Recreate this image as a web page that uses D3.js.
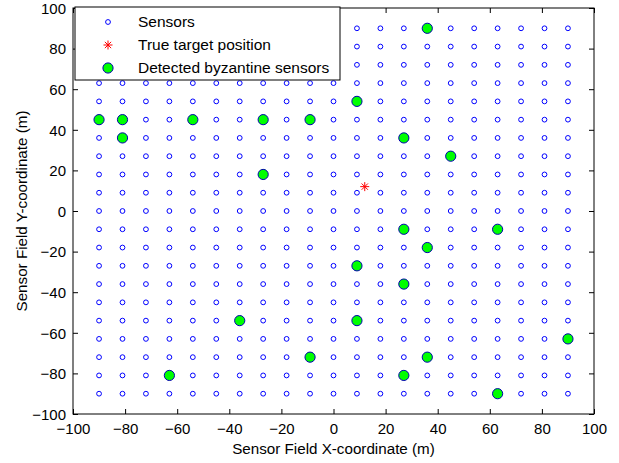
<!DOCTYPE html>
<html>
<head>
<meta charset="utf-8">
<script src="https://cdn.jsdelivr.net/npm/d3@7"></script>
<style>
  body { margin: 0; background: #fff; }
  svg { display: block; font-family: "Liberation Sans", Arial, sans-serif; }
</style>
</head>
<body>
<div id="chart"></div>
<script>
// sensor grid coordinates (same for x and y)
const gridCoords = [-90, -81, -72, -63, -54, -45, -36, -27, -18, -9, 0, 9, 18, 27, 36, 45, 54, 63, 72, 81, 90];

// true target position
const targetPos = [12, 12];

// detected byzantine sensors
const byzX = [36, 9, -90, -81, -54, -27, -9, -81, 27, 45, -27, 27, 63, 36, 9, 27, -36, 9, 90, -9, 36, -63, 27, 63];
const byzY = [90, 54, 45, 45, 45, 45, 45, 36, 36, 27, 18, -9, -9, -18, -27, -36, -54, -54, -63, -72, -72, -81, -81, -90];

const xTicks = [-100, -80, -60, -40, -20, 0, 20, 40, 60, 80, 100];
const yTicks = [-100, -80, -60, -40, -20, 0, 20, 40, 60, 80, 100];

const legendLabels = ['Sensors', 'True target position', 'Detected byzantine sensors'];

const W = 619, H = 463;
const m = { left: 73, top: 8, right: 25, bottom: 49 };
const iw = W - m.left - m.right, ih = H - m.top - m.bottom;

const svg = d3.select('#chart').append('svg').attr('width', W).attr('height', H);
const g = svg.append('g').attr('transform', `translate(${m.left},${m.top})`);

const x = d3.scaleLinear().domain([-100, 100]).range([0, iw]);
const y = d3.scaleLinear().domain([-100, 100]).range([ih, 0]);

// sensors
const sensors = [];
gridCoords.forEach(sy => gridCoords.forEach(sx => sensors.push([sx, sy])));

g.append('g').selectAll('circle').data(sensors).join('circle')
  .attr('cx', d => x(d[0])).attr('cy', d => y(d[1]))
  .attr('r', 2.4)
  .attr('fill', 'none').attr('stroke', '#0000ff').attr('stroke-width', 1);

// star marker path
function starPath(cx, cy, s) {
  const d = s * 0.7;
  return `M${cx - s},${cy}L${cx + s},${cy}M${cx},${cy - s}L${cx},${cy + s}` +
    `M${cx - d},${cy - d}L${cx + d},${cy + d}M${cx - d},${cy + d}L${cx + d},${cy - d}`;
}

g.append('path')
  .attr('d', starPath(x(targetPos[0]), y(targetPos[1]), 4.5))
  .attr('stroke', '#ff0000').attr('stroke-width', 1).attr('fill', 'none');

// byzantine sensors
g.append('g').selectAll('circle').data(byzX.map((v, i) => [v, byzY[i]])).join('circle')
  .attr('cx', d => x(d[0])).attr('cy', d => y(d[1]))
  .attr('r', 5.1)
  .attr('fill', '#00ff00').attr('stroke', '#0000b0').attr('stroke-width', 1);

// axes (ticks inside, box all around)
const fmt = d3.format('d');
const ax = g.append('g').attr('transform', `translate(0,${ih})`)
  .call(d3.axisBottom(x).tickValues(xTicks).tickFormat(fmt).tickSizeInner(-5).tickSizeOuter(0).tickPadding(9));
const ay = g.append('g')
  .call(d3.axisLeft(y).tickValues(yTicks).tickFormat(fmt).tickSizeInner(-5).tickSizeOuter(0).tickPadding(7));
const axT = g.append('g')
  .call(d3.axisTop(x).tickValues(xTicks).tickFormat('').tickSizeInner(-5).tickSizeOuter(0));
const ayR = g.append('g').attr('transform', `translate(${iw},0)`)
  .call(d3.axisRight(y).tickValues(yTicks).tickFormat('').tickSizeInner(-5).tickSizeOuter(0));

[ax, ay, axT, ayR].forEach(a => {
  a.select('.domain').remove();
  a.selectAll('text').attr('font-size', 15).attr('fill', '#000')
    .style('font-family', '"Liberation Sans", Arial, sans-serif');
  a.selectAll('line').attr('stroke', '#000');
});
ax.selectAll('text').attr('dy', '0.71em');
ay.selectAll('text').attr('dy', '0.35em');

g.append('rect').attr('width', iw).attr('height', ih)
  .attr('fill', 'none').attr('stroke', '#000').attr('stroke-width', 1);

// axis labels
svg.append('text')
  .attr('x', m.left + iw / 2).attr('y', 454)
  .attr('text-anchor', 'middle').attr('font-size', 15.2)
  .text('Sensor Field X-coordinate (m)');
svg.append('text')
  .attr('transform', `translate(27,${m.top + ih / 2}) rotate(-90)`)
  .attr('text-anchor', 'middle').attr('font-size', 15.2)
  .text('Sensor Field Y-coordinate (m)');

// legend
const lg = svg.append('g').attr('transform', 'translate(75,7)');
lg.append('rect').attr('width', 265).attr('height', 73)
  .attr('fill', '#fff').attr('stroke', '#000').attr('stroke-width', 1);
const rows = [15, 38, 61];
legendLabels.forEach((t, i) => {
  lg.append('text').attr('x', 63).attr('y', rows[i]).attr('dy', '0.35em')
    .attr('font-size', 15.5).text(t);
});
lg.append('circle').attr('cx', 33).attr('cy', rows[0]).attr('r', 2.4)
  .attr('fill', 'none').attr('stroke', '#0000ff');
lg.append('path').attr('d', starPath(33, rows[1], 4.5))
  .attr('stroke', '#ff0000').attr('fill', 'none');
lg.append('circle').attr('cx', 33).attr('cy', rows[2]).attr('r', 5.1)
  .attr('fill', '#00ff00').attr('stroke', '#0000b0');
</script>
</body>
</html>
